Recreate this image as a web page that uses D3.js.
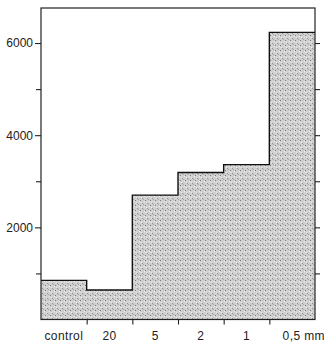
<!DOCTYPE html>
<html lang="en">
<head>
  <meta charset="UTF-8">
  <title>Step histogram</title>
  <script src="https://d3js.org/d3.v7.min.js"></script>
  <style>
    body { margin: 0; background: #fff; }
    text { font-family: "Liberation Sans", Arial, sans-serif; fill: #222; }
  </style>
</head>
<body>
  <svg id="chart" width="324" height="346"></svg>

  <script>
    // Data
    const categories = ["control", "20", "5", "2", "1", "0,5 mm"];
    const values = [850, 640, 2700, 3190, 3360, 6230];
    const majorTicks = [2000, 4000, 6000];
    const minorTicks = [1000, 3000, 5000];
    const rightTicks = [1000, 2000, 3000, 4000, 5000, 6000];

    const width = 324;
    const height = 346;
    const margin = { top: 8, right: 9, bottom: 26, left: 41 };

    const svg = d3.select("#chart");

    // scales
    const x = d3.scaleBand()
                .domain(categories)
                .range([margin.left, width - margin.right])
                .padding(0);

    const y = d3.scaleLinear()
                .domain([0, 6760])
                .range([height - margin.bottom - 0.5, margin.top]);

    // stipple pattern for the fill
    const defs = svg.append("defs");
    const pat = defs.append("pattern")
        .attr("id", "stipple")
        .attr("width", 5)
        .attr("height", 5)
        .attr("patternUnits", "userSpaceOnUse");
    pat.append("rect").attr("width", 5).attr("height", 5).attr("fill", "#d0d0d0");
    pat.append("rect").attr("x", 0).attr("y", 0).attr("width", 1).attr("height", 1).attr("fill", "#7a7a7a");
    pat.append("rect").attr("x", 2).attr("y", 3).attr("width", 1).attr("height", 1).attr("fill", "#909090");
    pat.append("rect").attr("x", 4).attr("y", 1).attr("width", 1).attr("height", 1).attr("fill", "#eeeeee");
    pat.append("rect").attr("x", 1).attr("y", 2).attr("width", 1).attr("height", 1).attr("fill", "#ececec");
    pat.append("rect").attr("x", 3).attr("y", 4).attr("width", 1).attr("height", 1).attr("fill", "#a8a8a8");

    // step points from the data
    const pts = [];
    categories.forEach((c, i) => {
      pts.push([x(c), values[i]]);
      pts.push([x(c) + x.bandwidth(), values[i]]);
    });

    const area = d3.area()
                   .x(d => d[0])
                   .y0(y(0))
                   .y1(d => y(d[1]));

    svg.append("path")
       .datum(pts)
       .attr("d", area)
       .attr("fill", "url(#stipple)");

    const line = d3.line()
                   .x(d => d[0])
                   .y(d => y(d[1]));

    svg.append("path")
       .datum(pts)
       .attr("d", line)
       .attr("fill", "none")
       .attr("stroke", "#111")
       .attr("stroke-width", 1.4);

    // frame
    svg.append("rect")
       .attr("x", margin.left)
       .attr("y", margin.top)
       .attr("width", width - margin.left - margin.right)
       .attr("height", y(0) - margin.top)
       .attr("fill", "none")
       .attr("stroke", "#222")
       .attr("stroke-width", 1.2);

    // left axis: labelled and minor ticks
    const left = svg.append("g")
       .attr("transform", `translate(${margin.left},0)`)
       .call(d3.axisLeft(y).tickValues(majorTicks).tickSize(6).tickPadding(2).tickFormat(d3.format("d")));
    left.select(".domain").remove();
    left.selectAll("text").style("font-size", "12px");

    const leftMinor = svg.append("g")
       .attr("transform", `translate(${margin.left},0)`)
       .call(d3.axisLeft(y).tickValues(minorTicks).tickSize(5).tickFormat(""));
    leftMinor.select(".domain").remove();

    // right axis ticks
    const right = svg.append("g")
       .attr("transform", `translate(${width - margin.right},0)`)
       .call(d3.axisRight(y).tickValues(rightTicks).tickSize(5).tickFormat(""));
    right.select(".domain").remove();

    // bottom ticks at bin boundaries
    const bounds = categories.slice(1).map(c => x(c));
    const bottomTicks = svg.append("g")
       .attr("transform", `translate(0,${y(0)})`)
       .call(d3.axisBottom(d3.scaleIdentity()).tickValues(bounds).tickSize(5).tickFormat(""));
    bottomTicks.select(".domain").remove();

    // category labels
    const bottom = svg.append("g")
       .attr("transform", `translate(0,${y(0)})`)
       .call(d3.axisBottom(x).tickSize(0).tickPadding(12));
    bottom.select(".domain").remove();
    bottom.selectAll("text")
       .style("font-size", "12px")
       .style("letter-spacing", "0.4px");

    // last label: number centred on its bin, unit trailing to the right
    bottom.selectAll("text")
       .filter(d => d === categories[categories.length - 1])
       .attr("text-anchor", "start")
       .attr("dx", "-0.8em");

    svg.selectAll(".tick line").attr("stroke", "#222").attr("stroke-width", 1.1);
  </script>
</body>
</html>
